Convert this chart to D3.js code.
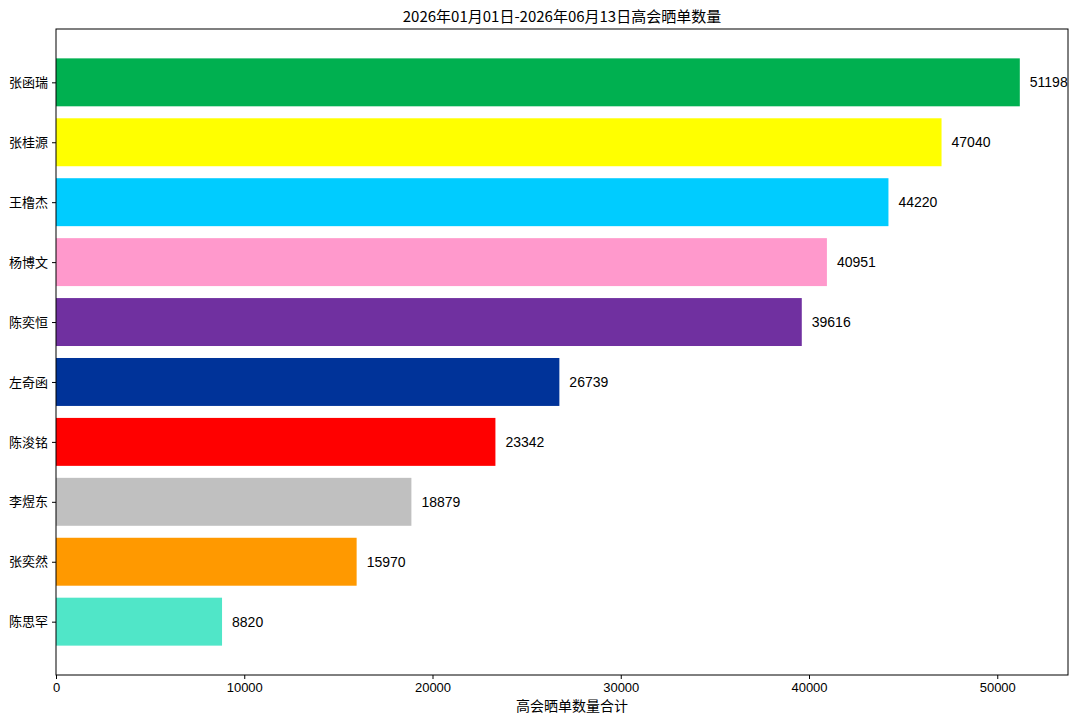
<!DOCTYPE html>
<html>
<head>
<meta charset="utf-8">
<script src="https://cdn.jsdelivr.net/npm/d3@7"></script>
<style>
  body { margin: 0; background: #fff; }
  svg text { font-family: "Liberation Sans", "Noto Sans CJK SC", sans-serif; fill: #000; }
  .cjk { font-family: "Noto Sans CJK SC", sans-serif; }
</style>
</head>
<body>
<svg id="chart" width="1080" height="721"></svg>
<script>
// values, top bar first
const names = ["张函瑞", "张桂源", "王橹杰", "杨博文", "陈奕恒", "左奇函", "陈浚铭", "李煜东", "张奕然", "陈思罕"];
const counts = [51198, 47040, 44220, 40951, 39616, 26739, 23342, 18879, 15970, 8820];
const barColors = ["#00b050", "#ffff00", "#00ccff", "#ff99cc", "#7030a0", "#003399", "#ff0000", "#c0c0c0", "#ff9900", "#50e6c8"];
const xTicks = [0, 10000, 20000, 30000, 40000, 50000];
const title = "2026年01月01日-2026年06月13日高会晒单数量";
const xLabel = "高会晒单数量合计";

const plotLeft = 56, plotRight = 1068, plotTop = 29, plotBottom = 675;
const svg = d3.select("#chart");

// matplotlib style margins: 5% on the right, bars of height 0.8
const xScale = d3.scaleLinear()
  .domain([0, d3.max(counts) * 1.05])
  .range([plotLeft, plotRight]);
const n = names.length;
const yScale = d3.scaleLinear()
  .domain([n - 1 + 0.4 + 0.49, -0.4 - 0.49])
  .range([plotTop, plotBottom]);
// index 0 sits at top -> position n-1-i
const pos = i => n - 1 - i;

svg.append("g")
  .selectAll("rect")
  .data(counts)
  .join("rect")
  .attr("x", xScale(0))
  .attr("y", (d, i) => yScale(pos(i) + 0.4))
  .attr("width", d => xScale(d) - xScale(0))
  .attr("height", (d, i) => yScale(pos(i) - 0.4) - yScale(pos(i) + 0.4))
  .attr("fill", (d, i) => barColors[i]);

// value labels
svg.append("g")
  .selectAll("text")
  .data(counts)
  .join("text")
  .attr("x", d => xScale(d) + 10)
  .attr("y", (d, i) => yScale(pos(i)))
  .attr("dy", "0.35em")
  .attr("font-size", 14)
  .text(d => d);

// frame
svg.append("rect")
  .attr("x", plotLeft).attr("y", plotTop)
  .attr("width", plotRight - plotLeft).attr("height", plotBottom - plotTop)
  .attr("fill", "none").attr("stroke", "#000").attr("stroke-width", 1);

// x axis
const xAxis = svg.append("g")
  .attr("transform", `translate(0,${plotBottom})`)
  .call(d3.axisBottom(xScale).tickValues(xTicks).tickFormat(d3.format("d")).tickSize(4).tickPadding(4));
xAxis.select(".domain").remove();
xAxis.selectAll("text").attr("font-size", 13).attr("fill", "#000");

// y axis
const yAxis = svg.append("g")
  .attr("transform", `translate(${plotLeft},0)`)
  .call(d3.axisLeft(yScale).tickValues(d3.range(n)).tickFormat(p => names[n - 1 - p]).tickSize(4).tickPadding(4));
yAxis.select(".domain").remove();
yAxis.selectAll("text").attr("font-size", 13).attr("class", "cjk").attr("fill", "#000");

// title and axis label
svg.append("text")
  .attr("class", "cjk")
  .attr("x", (plotLeft + plotRight) / 2)
  .attr("y", 22)
  .attr("text-anchor", "middle")
  .attr("font-size", 15)
  .text(title);

svg.append("text")
  .attr("class", "cjk")
  .attr("x", (plotLeft + plotRight) / 2 + 10)
  .attr("y", 711)
  .attr("text-anchor", "middle")
  .attr("font-size", 14)
  .text(xLabel);
</script>
</body>
</html>
